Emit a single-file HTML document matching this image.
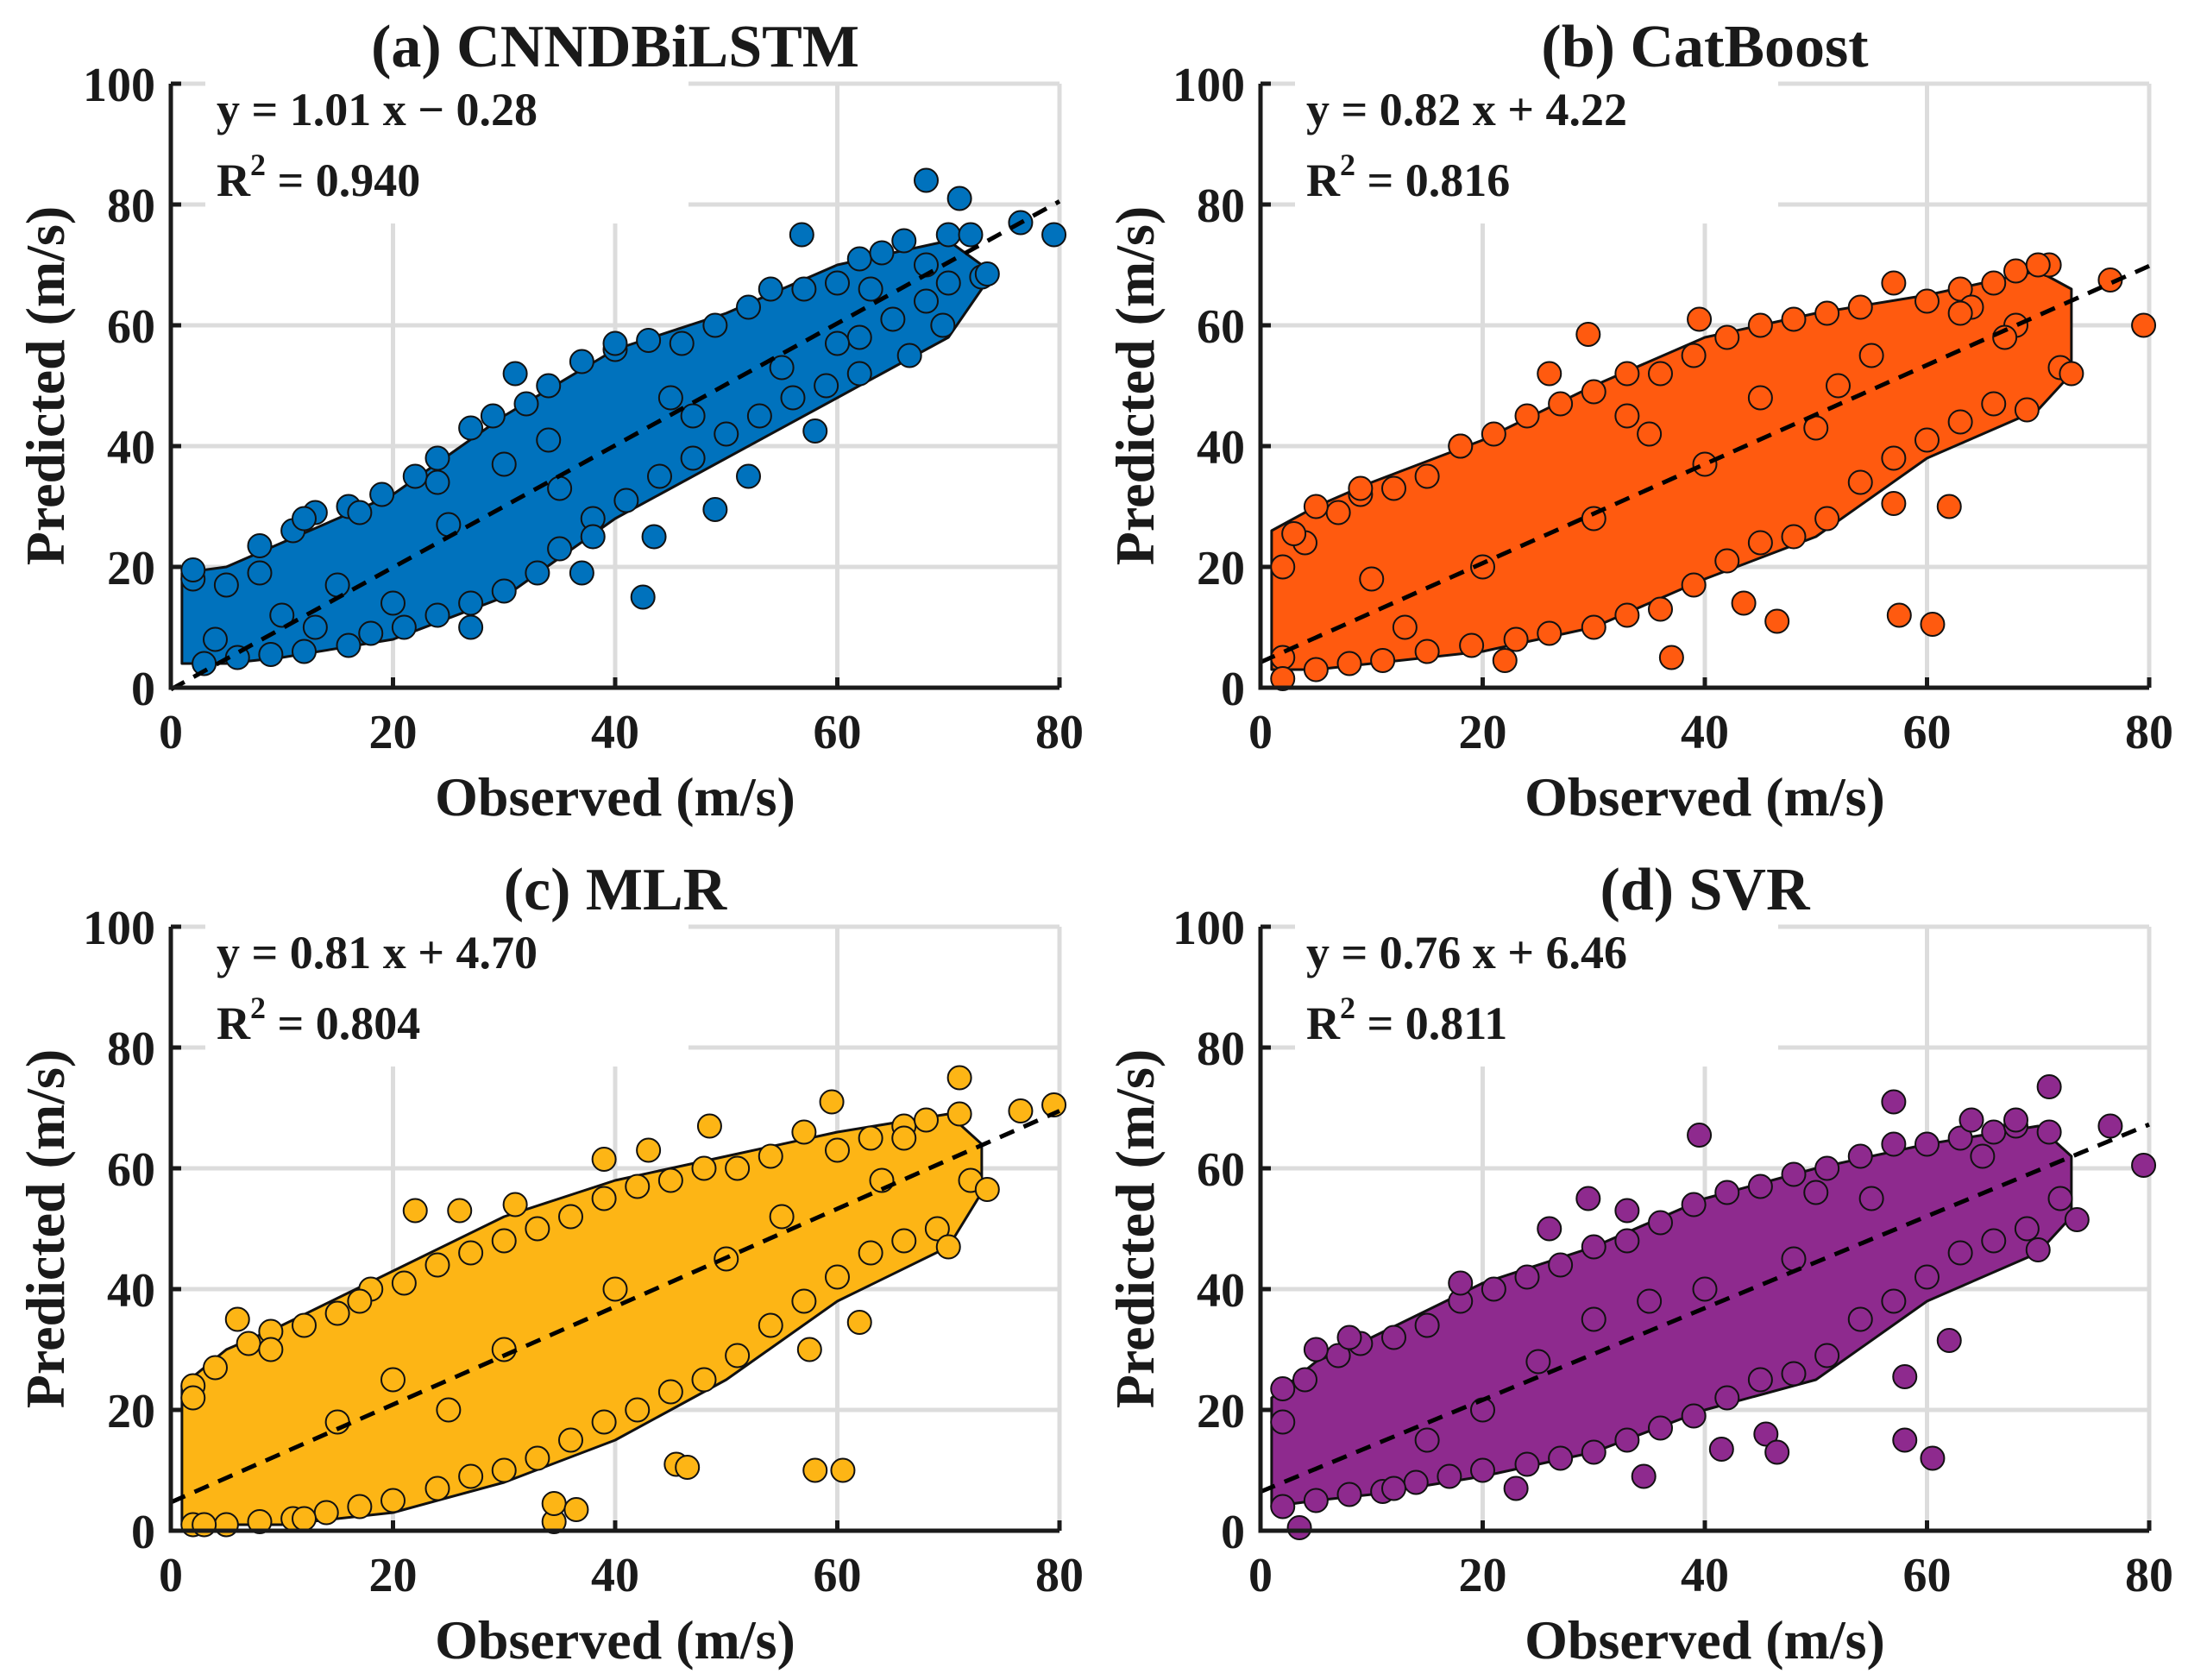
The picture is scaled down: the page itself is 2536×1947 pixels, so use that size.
<!DOCTYPE html>
<html><head><meta charset="utf-8"><style>
html,body{margin:0;padding:0;background:#fff}
svg{display:block}
text{font-family:"Liberation Serif",serif;font-weight:bold;fill:#1a1a1a}
</style></head><body>
<svg id="fig" width="2536" height="1947" viewBox="0 0 2536 1947" xmlns="http://www.w3.org/2000/svg"></svg>
<script>
// ---- data ----
const titles = ["(a) CNNDBiLSTM","(b) CatBoost","(c) MLR","(d) SVR"];
const colors = ["#0072BD","#FF5A0F","#FDB515","#8E2A8E"];
const slopes = [1.01,0.82,0.81,0.76];
const intercepts = [-0.28,4.22,4.70,6.46];
const eqTexts = ["y = 1.01 x \u2212 0.28","y = 0.82 x + 4.22","y = 0.81 x + 4.70","y = 0.76 x + 6.46"];
const r2Texts = ["0.940","0.816","0.804","0.811"];
const xTicks = [0,20,40,60,80];
const yTicks = [0,20,40,60,80,100];
// cloud envelopes: observed, lower predicted, upper predicted
const envX = [[1,5,10,20,30,40,50,60,70,73],[1,5,10,20,30,40,50,60,70,73],[1,5,10,20,30,40,50,60,70,73],[1,5,10,20,30,40,50,60,70,73]];
const envLo = [[4,4,5,8,15,28,38,48,58,66],[3,3,4,6,10,18,25,38,46,52],[1,1,1,3,8,15,25,38,47,56],[4,5,6,9,13,20,25,38,46,52]];
const envHi = [[19,20,24,32,45,56,62,70,74,70],[26,30,34,41,50,58,62,65,69,66],[24,30,34,43,52,58,62,66,69,64],[22,28,32,41,47,55,60,64,67,62]];
// scattered visible points (observed, predicted)
const ptsX = [
 [2,4,8,12,13,17,24,27,31,34,37,38,40,42.5,43.5,49,52,56.8,58,62,66.5,68,69.5,71,72,73.5,76.5,79.5,20,45,55,63,15,25,35,10,30,47,60],
 [3,2,5,9,13,18,22,26,29.5,33,37,39.5,43.5,46.5,52,57,57.5,60.5,62,64,68,70,73,76.5,79.5,45,55,63,20,30,40,10,35,50,67],
 [2,3,6,9,12,17,22,26,31,34.5,34.5,36.5,39,45.5,46.5,48.5,57.5,58,59.5,60.5,62,66,70,71,73.5,76.5,79.5,20,30,40,50,15,25,43,55,64],
 [2,3.5,5,8,12,18,23,26,29.5,33,34.5,39.5,41.5,45.5,46.5,50,57,58,58,60.5,62,64,68,70,71,73.5,76.5,79.5,20,30,40,15,25,35,48,55,65]
];
const ptsY = [
 [19.5,8,23.5,28,10,29,34,10,52,41,19,25,57,15,25,29.5,35,75,42.5,52,55,84,60,81,75,68.5,77,75,14,48,53,66,17,27,33,12,37,45,57],
 [25.5,1.5,30,33,10,40,4.5,52,58.5,45,5,61,14,11,50,30.5,12,10.5,30,63,60,70,52,67.5,60,48,55,62,20,28,37,18,42,43,58],
 [22,1,35,30,2,38,53,53,54,1.5,4.5,3.5,61.5,11,10.5,67,30,10,71,10,34.5,65,47,75,56.5,69.5,70.5,25,30,40,45,18,20,63,52,58],
 [23.5,0.5,30,32,7,41,7,50,55,53,9,65.5,13.5,16,13,56,71,15,25.5,12,31.5,68,68,46.5,73.5,51.5,67,60.5,20,35,40,15,28,38,45,55,62]
];
// points along the cloud boundary: observed values and predicted values
const edgeX = [
 [2,5,8,11,13,16,19,22,24,27,29,32,34,37,40,43,46,49,52,54,57,60,62,64,66,68,70,3,6,9,12,16,18,21,24,27,30,33,35,38,41,44,47,50,53,56,59,62,65,68,70,73],
 [2,4,7,9,12,15,18,21,24,27,30,33,36,39,42,45,48,51,54,57,60,63,66,68,71,2,5,8,11,15,19,23,26,30,33,36,39,42,45,48,51,54,57,60,63,66,69,72],
 [2,4,7,9,12,15,18,21,24,27,30,33,36,39,42,45,48,51,54,57,60,63,66,68,71,2,5,8,11,14,17,20,24,27,30,33,36,39,42,45,48,51,54,57,60,63,66,69,72],
 [2,4,7,9,12,15,18,21,24,27,30,33,36,39,42,45,48,51,54,57,60,63,66,68,71,2,5,8,11,14,17,20,24,27,30,33,36,39,42,45,48,51,54,57,60,63,66,69,72]
];
const edgeY = [
 [18,17,19,26,29,30,32,35,38,43,45,47,50,54,56,57.5,57,60,63,66,66,67,71,72,74,70,75,4,5,5.5,6,7,9,10,12,14,16,19,23,28,31,35,38,42,45,48,50,58,61,64,67,68],
 [20,24,29,32,33,35,40,42,45,47,49,52,52,55,58,60,61,62,63,67,64,66,67,69,70,5,3,4,4.5,6,7,8,9,10,12,13,17,21,24,25,28,34,38,41,44,47,46,53],
 [24,27,31,33,34,36,40,41,44,46,48,50,52,55,57,58,60,60,62,66,63,65,67,68,69,1,1,1.5,2,3,4,5,7,9,10,12,15,18,20,23,25,29,34,38,42,46,48,50,58],
 [18,25,29,31,32,34,38,40,42,44,47,48,51,54,56,57,59,60,62,64,64,65,66,67,66,4,5,6,6.5,8,9,10,11,12,13,15,17,19,22,25,26,29,35,38,42,46,48,50,55]
];
// ---- layout ----
const NS="http://www.w3.org/2000/svg";
const svg=document.getElementById('fig');
const offX=[0,1263,0,1263], offY=[0,0,977,977];
const L=198,R=1228,T=97,B=797;
function mk(tag,attrs,parent){const e=document.createElementNS(NS,tag);for(const k in attrs)e.setAttribute(k,attrs[k]);(parent||svg).appendChild(e);return e;}
for(let p=0;p<4;p++){
  const g=mk('g',{transform:`translate(${offX[p]},${offY[p]})`});
  
  
  const sx=v=>L+(R-L)*v/80, sy=v=>B-(B-T)*v/100;
  xTicks.forEach(t=>{const l=mk('line',{x1:sx(t),x2:sx(t),y1:T,y2:B,stroke:'#dcdcdc','stroke-width':5},g);
    });
  yTicks.forEach(t=>{const l=mk('line',{x1:L,x2:R,y1:sy(t),y2:sy(t),stroke:'#dcdcdc','stroke-width':5},g);
    });
  const bg=mk('rect',{x:L+40,y:T-8,width:560,height:170,fill:'#fff'},g);
  
  const xs=envX[p],lo=envLo[p],hi=envHi[p];
  let d='';
  xs.forEach((x,i)=>{d+=(i?'L':'M')+sx(x)+','+sy(hi[i])+' ';});
  for(let i=xs.length-1;i>=0;i--)d+='L'+sx(xs[i])+','+sy(lo[i])+' ';
  const cl=mk('path',{d:d+'Z',fill:colors[p],stroke:'#111','stroke-width':3,'stroke-linejoin':'round'},g);
  
  edgeX[p].forEach((x,i)=>{const c=mk('circle',{cx:sx(x),cy:sy(edgeY[p][i]),r:13.5,fill:colors[p],stroke:'#111','stroke-width':2},g);
    });
  ptsX[p].forEach((x,i)=>{const c=mk('circle',{cx:sx(x),cy:sy(ptsY[p][i]),r:13.5,fill:colors[p],stroke:'#111','stroke-width':2},g);
    });
  const fl=mk('line',{x1:sx(0),y1:sy(intercepts[p]),x2:sx(80),y2:sy(intercepts[p]+slopes[p]*80),stroke:'#000','stroke-width':5,'stroke-dasharray':'18,12'},g);
  
  const ax=mk('path',{d:`M${L},${T} L${L},${B} L${R},${B}`,fill:'none',stroke:'#1a1a1a','stroke-width':5},g);
  
  xTicks.forEach(t=>{mk('line',{x1:sx(t),x2:sx(t),y1:B,y2:B-12,stroke:'#1a1a1a','stroke-width':5},g);
    const tx=mk('text',{x:sx(t),y:B+70,'text-anchor':'middle','font-size':56},g);tx.textContent=t;
    });
  yTicks.forEach(t=>{mk('line',{x1:L,x2:L+12,y1:sy(t),y2:sy(t),stroke:'#1a1a1a','stroke-width':5},g);
    const tx=mk('text',{x:L-18,y:sy(t)+20,'text-anchor':'end','font-size':56},g);tx.textContent=t;
    });
  const ti=mk('text',{x:(L+R)/2,y:T-20,'text-anchor':'middle','font-size':70},g);ti.textContent=titles[p];
  
  const xl=mk('text',{x:(L+R)/2,y:B+148,'text-anchor':'middle','font-size':64},g);xl.textContent='Observed (m/s)';
  
  const yl=mk('text',{x:0,y:0,'text-anchor':'middle','font-size':64,transform:`translate(74,${(T+B)/2}) rotate(-90)`},g);yl.textContent='Predicted (m/s)';
  
  const eq=mk('text',{x:L+53,y:T+48,'font-size':54},g);eq.textContent=eqTexts[p];
  
  const r2=mk('text',{x:L+53,y:T+130,'font-size':54},g);
  
  r2.innerHTML='R<tspan dy="-24" font-size="36">2</tspan><tspan dy="24"> = '+r2Texts[p]+'</tspan>';
}
</script>
</body></html>
